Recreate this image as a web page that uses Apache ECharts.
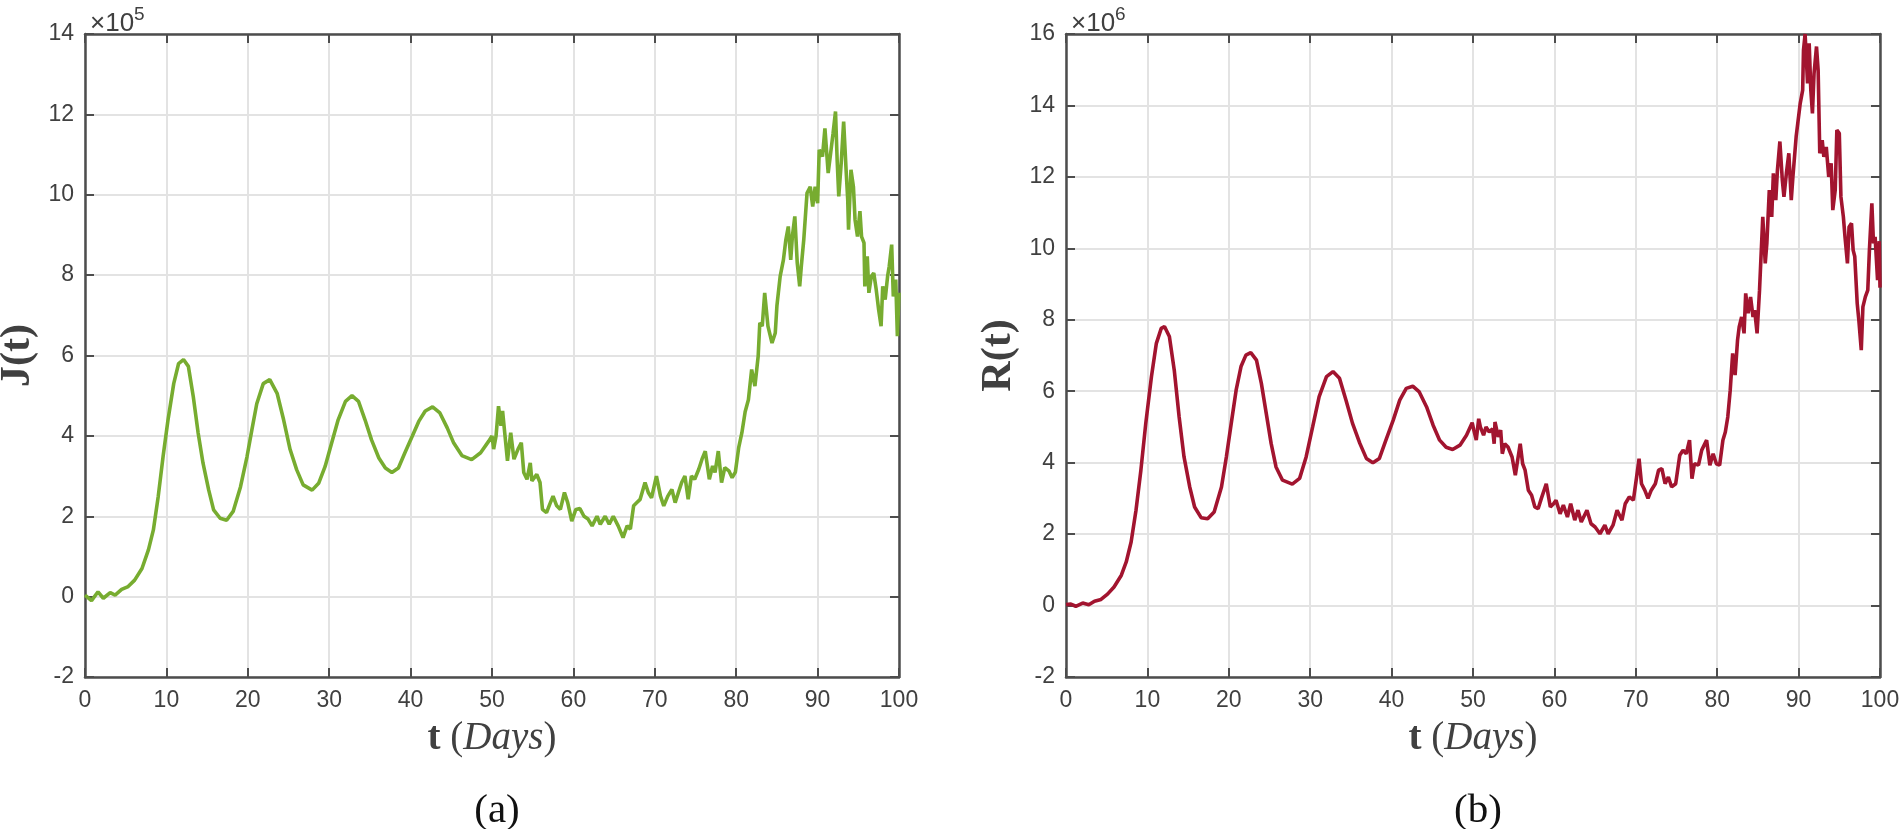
<!DOCTYPE html>
<html>
<head>
<meta charset="utf-8">
<script src="https://cdn.jsdelivr.net/npm/echarts@6/dist/echarts.min.js"></script>
<style>
  html, body { margin: 0; padding: 0; background: #fff; }
  #chart { width: 1900px; height: 829px; }
</style>
</head>
<body>
<div id="chart"></div>
<script>
// x ticks shared by both panels
const dayTicks = [0, 10, 20, 30, 40, 50, 60, 70, 80, 90, 100]

// panel (a): J(t), values in units of 1e5
const jDays = [
  0, 0.8, 1.6, 2.25, 3.1, 3.7, 4.5, 5.3, 6.1, 7.0, 7.8, 8.4, 9.0, 9.6, 10.2, 10.9, 11.5, 12.1, 12.7, 13.3,
  13.9, 14.5, 15.2, 15.8, 16.6, 17.4, 18.2, 19.1, 19.9, 20.5, 21.1, 21.9, 22.7, 23.6, 24.4, 25.2, 26.0, 26.8,
  27.9, 28.7, 29.5, 30.3, 31.1, 32.0, 32.8, 33.6, 34.4, 35.2, 36.1, 36.9, 37.7, 38.5, 39.3, 40.2, 41.0, 41.8,
  42.7, 43.6, 44.5, 45.3, 46.3, 47.5, 48.6, 49.6, 50.0, 50.2, 50.5, 50.8, 51.1, 51.3, 51.6, 51.9, 52.3, 52.7,
  53.2, 53.6, 53.9, 54.3, 54.7, 54.9, 55.5, 55.9, 56.2, 56.7, 57.1, 57.5, 57.95, 58.4, 58.9, 59.3, 59.8, 60.3,
  60.8, 61.3, 61.8, 62.3, 62.9, 63.3, 63.9, 64.4, 64.9, 65.5, 66.1, 66.6, 67.0, 67.4, 67.8, 68.2, 68.8, 69.2,
  69.6, 70.2, 70.7, 71.1, 71.6, 72.1, 72.5, 72.9, 73.3, 73.7, 74.1, 74.5, 74.9, 75.4, 75.8, 76.2, 76.7, 77.1,
  77.4, 77.8, 78.2, 78.6, 79.1, 79.5, 79.9, 80.3, 80.7, 81.1, 81.5, 81.9, 82.3, 82.7, 82.9, 83.2, 83.5, 83.9,
  84.4, 84.8, 85.0, 85.4, 85.8, 86.1, 86.4, 86.7, 86.9, 87.2, 87.5, 87.8, 88.0, 88.3, 88.7, 89.1, 89.4, 89.7,
  90.0, 90.2, 90.6, 90.9, 91.3, 91.6, 91.9, 92.2, 92.4, 92.6, 92.9, 93.2, 93.5, 93.7, 93.8, 94.1, 94.4, 94.6,
  94.9, 95.2, 95.4, 95.7, 95.8, 96.1, 96.3, 96.6, 96.9, 97.2, 97.5, 97.8, 98.0, 98.3, 98.6, 98.8, 99.1, 99.3,
  99.6, 99.8, 100
]
const jValues = [
  0.04, -0.1, 0.12, -0.04, 0.1, 0.04, 0.18, 0.25, 0.41, 0.7, 1.17, 1.66, 2.5, 3.5, 4.4, 5.3, 5.8, 5.9, 5.73, 4.98,
  4.07, 3.32, 2.65, 2.16, 1.95, 1.9, 2.12, 2.73, 3.48, 4.15, 4.8, 5.3, 5.4, 5.06, 4.4, 3.66, 3.16, 2.78,
  2.65, 2.82, 3.24, 3.82, 4.4, 4.86, 5.0, 4.86, 4.4, 3.9, 3.45, 3.2, 3.09, 3.2, 3.58, 3.99, 4.36, 4.62,
  4.72, 4.57, 4.2, 3.82, 3.51, 3.41, 3.58, 3.87, 4.0, 3.67, 4.0, 4.74, 4.25, 4.62, 4.0, 3.38, 4.08, 3.42,
  3.67, 3.83, 3.09, 2.92, 3.33, 2.88, 3.04, 2.84, 2.17, 2.09, 2.3, 2.5, 2.26, 2.17, 2.59, 2.34, 1.88, 2.17,
  2.19, 2.0, 1.93, 1.76, 2.0, 1.8, 2.0, 1.8, 2.0, 1.76, 1.47, 1.76, 1.68, 2.26, 2.34, 2.42, 2.84, 2.59,
  2.46, 3.0, 2.5, 2.26, 2.5, 2.67, 2.34, 2.59, 2.84, 3.0, 2.42, 3.0, 2.92, 3.17, 3.42, 3.62, 2.92, 3.25,
  3.09, 3.62, 2.84, 3.21, 3.13, 2.96, 3.1, 3.7, 4.08, 4.6, 4.9, 5.65, 5.24, 5.98, 6.81, 6.73, 7.56, 6.73,
  6.31, 6.56, 7.23, 7.97, 8.38, 8.88, 9.21, 8.38, 8.96, 9.46, 8.3, 7.72, 8.22, 8.88, 10.04, 10.2, 9.71, 10.2,
  9.79, 11.12, 10.95, 11.65, 10.54, 11.03, 11.53, 12.07, 10.87, 9.96, 10.79, 11.82, 10.62, 9.88, 9.13, 10.62, 10.2, 9.38,
  8.96, 9.59, 8.96, 8.8, 7.72, 8.47, 7.56, 7.97, 8.05, 7.64, 7.14, 6.73, 7.72, 7.39, 7.97, 8.22, 8.76, 7.47,
  7.89, 6.48, 7.56
]
const jTicks = [-2, 0, 2, 4, 6, 8, 10, 12, 14]

// panel (b): R(t), values in units of 1e6
const rDays = [
  0, 0.6, 1.2, 2.05, 2.8, 3.5, 4.3, 5.1, 5.9, 6.8, 7.4, 8.0, 8.6, 9.2, 9.8, 10.5, 11.1, 11.7, 12.1, 12.7,
  13.3, 13.9, 14.5, 15.2, 15.8, 16.6, 17.4, 18.2, 19.1, 19.7, 20.3, 20.9, 21.5, 22.1, 22.7, 23.4, 24.0, 24.6,
  25.2, 25.8, 26.6, 27.8, 28.7, 29.5, 30.3, 31.1, 32.0, 32.8, 33.6, 34.4, 35.2, 36.1, 36.9, 37.7, 38.5, 39.3,
  40.2, 41.0, 41.8, 42.6, 43.4, 44.3, 45.1, 45.9, 46.7, 47.5, 48.4, 49.2, 49.9, 50.1, 50.4, 50.7, 50.9, 51.3,
  51.6, 52.0, 52.4, 52.6, 52.7, 53.1, 53.4, 53.6, 53.9, 54.3, 54.8, 55.2, 55.4, 55.8, 56.1, 56.4, 56.8, 57.2,
  57.6, 58.0, 58.4, 59.0, 59.5, 59.9, 60.2, 60.7, 61.1, 61.6, 62.0, 62.5, 62.9, 63.3, 64.0, 64.5, 65.0, 65.6,
  66.2, 66.6, 67.2, 67.7, 68.3, 68.7, 69.2, 69.7, 70.1, 70.4, 70.7, 71.1, 71.5, 71.9, 72.4, 72.8, 73.2, 73.6,
  74.0, 74.4, 74.9, 75.4, 75.8, 76.2, 76.6, 76.9, 77.2, 77.7, 78.1, 78.7, 79.1, 79.5, 79.9, 80.3, 80.7, 81.0,
  81.3, 81.6, 81.9, 82.2, 82.5, 82.7, 83.0, 83.3, 83.5, 83.8, 84.1, 84.4, 84.6, 84.9, 85.2, 85.6, 85.9, 86.1,
  86.4, 86.7, 86.9, 87.2, 87.4, 87.7, 88.0, 88.2, 88.5, 88.8, 89.1, 89.3, 89.7, 89.9, 90.2, 90.5, 90.6, 90.8,
  91.1, 91.3, 91.5, 91.7, 91.9, 92.2, 92.4, 92.6, 92.9, 93.1, 93.4, 93.7, 94.0, 94.2, 94.5, 94.7, 95.0, 95.2,
  95.5, 95.7, 96.0, 96.2, 96.5, 96.7, 96.9, 97.2, 97.4, 97.7, 97.9, 98.2, 98.5, 98.7, 99.0, 99.2, 99.4, 99.7,
  99.9, 100
]
const rValues = [
  0.03, 0.04, -0.02, 0.07, 0.02, 0.12, 0.17, 0.32, 0.52, 0.85, 1.22, 1.78, 2.67, 3.79, 5.1, 6.41, 7.34, 7.76, 7.81, 7.53,
  6.59, 5.28, 4.16, 3.32, 2.76, 2.46, 2.43, 2.62, 3.32, 4.16, 5.1, 6.03, 6.69, 7.01, 7.08, 6.87, 6.22, 5.38,
  4.54, 3.88, 3.51, 3.4, 3.56, 4.16, 5.0, 5.85, 6.41, 6.55, 6.36, 5.75, 5.1, 4.54, 4.12, 4.0, 4.12, 4.63,
  5.19, 5.75, 6.08, 6.14, 5.98, 5.56, 5.05, 4.63, 4.43, 4.37, 4.49, 4.77, 5.12, 4.91, 4.63, 5.23, 5.0, 4.77,
  5.0, 4.86, 4.95, 4.53, 5.14, 4.72, 4.91, 4.25, 4.53, 4.44, 4.16, 3.65, 3.69, 4.53, 3.97, 3.79, 3.23, 3.09,
  2.76, 2.71, 3.0, 3.41, 2.76, 2.85, 2.95, 2.57, 2.81, 2.48, 2.85, 2.39, 2.67, 2.34, 2.67, 2.29, 2.2, 2.01,
  2.25, 2.01, 2.25, 2.67, 2.39, 2.85, 3.04, 2.95, 3.6, 4.11, 3.41, 3.23, 3.0, 3.23, 3.41, 3.79, 3.83, 3.41,
  3.6, 3.32, 3.41, 4.21, 4.35, 4.25, 4.63, 3.55, 3.97, 3.93, 4.35, 4.63, 3.93, 4.25, 3.97, 3.93, 4.63, 4.86,
  5.28, 6.03, 7.06, 6.45, 7.43, 7.8, 8.08, 7.62, 8.74, 8.18, 8.64, 8.08, 8.27, 7.62, 8.83, 10.88, 9.58, 10.14,
  11.63, 10.88, 12.1, 11.35, 12.19, 12.99, 11.91, 11.44, 12.1, 12.66, 11.35, 12.0, 13.13, 13.5, 14.06, 14.43, 15.55, 16.0,
  14.62, 15.74, 14.43, 13.78, 14.9, 15.65, 14.99, 12.66, 13.03, 12.56, 12.84, 12.0, 12.38, 11.07, 11.63, 13.31, 13.22, 11.44,
  10.88, 10.32, 9.58, 10.6, 10.7, 9.95, 9.77, 8.46, 7.99, 7.15, 8.36, 8.64, 8.83, 9.95, 11.26, 10.14, 10.32, 9.11,
  10.2, 8.9
]
const rTicks = [-2, 0, 2, 4, 6, 8, 10, 12, 14, 16]

const AXIS_COLOR = '#4d4d4d'
const LABEL_COLOR = '#404040'
const GRID_COLOR = '#e3e3e3'
const SANS = 'Liberation Sans'
const SERIF = 'Liberation Serif'

const panels = [
  { left: 85, name: 'J', exp: '5', ticks: jTicks, days: jDays, values: jValues, color: '#77ac30', tag: '(a)' },
  { left: 1066, name: 'R', exp: '6', ticks: rTicks, days: rDays, values: rValues, color: '#a2142f', tag: '(b)' }
]
const plotW = 814
const plotTop = 34
const plotH = 643

const grids = []
const xAxes = []
const yAxes = []
const series = []
const titles = []

panels.forEach((p, i) => {
  // keep the plot box fixed, names may hang outside
  grids.push({ left: p.left, top: plotTop, width: plotW, height: plotH, containLabel: false, outerBoundsMode: 'none' })

  const tick = { show: true, inside: true, length: 9, lineStyle: { color: AXIS_COLOR, width: 2 } }
  const line = { show: true, onZero: false, lineStyle: { color: AXIS_COLOR, width: 2.5 } }
  const split = { show: true, lineStyle: { color: GRID_COLOR, width: 2 } }
  const yMin = p.ticks[0], yMax = p.ticks[p.ticks.length - 1]

  xAxes.push({
    gridIndex: i, type: 'value', position: 'bottom',
    min: dayTicks[0], max: dayTicks[dayTicks.length - 1], interval: 10,
    axisLine: line, axisTick: tick, splitLine: split,
    axisLabel: { color: LABEL_COLOR, fontFamily: SANS, fontSize: 23, margin: 12, showMinLabel: true, showMaxLabel: true },
    name: '{b|t}{n| (}{i|Days}{n|)}',
    nameLocation: 'middle', nameGap: 42,
    nameTextStyle: {
      color: LABEL_COLOR, fontFamily: SERIF, fontSize: 39,
      rich: {
        b: { fontFamily: SERIF, fontWeight: 'bold', fontSize: 39, color: LABEL_COLOR },
        n: { fontFamily: SERIF, fontSize: 39, color: LABEL_COLOR },
        i: { fontFamily: SERIF, fontStyle: 'italic', fontSize: 39, color: LABEL_COLOR }
      }
    }
  })
  xAxes.push({
    gridIndex: i, type: 'value', position: 'top',
    min: dayTicks[0], max: dayTicks[dayTicks.length - 1], interval: 10,
    axisLine: line, axisTick: tick, splitLine: { show: false }, axisLabel: { show: false }
  })

  yAxes.push({
    gridIndex: i, type: 'value', position: 'left',
    min: yMin, max: yMax, interval: 2,
    axisLine: line, axisTick: tick, splitLine: split,
    axisLabel: { color: LABEL_COLOR, fontFamily: SANS, fontSize: 23, margin: 11, showMinLabel: true, showMaxLabel: true },
    name: p.name + '(t)',
    nameLocation: 'middle', nameGap: 46,
    nameTextStyle: { color: LABEL_COLOR, fontFamily: SERIF, fontWeight: 'bold', fontSize: 42 }
  })
  yAxes.push({
    gridIndex: i, type: 'value', position: 'right',
    min: yMin, max: yMax, interval: 2,
    axisLine: line, axisTick: tick, splitLine: { show: false }, axisLabel: { show: false }
  })

  series.push({
    type: 'line',
    xAxisIndex: i * 2, yAxisIndex: i * 2,
    data: p.days.map((d, k) => [d, p.values[k]]),
    showSymbol: false,
    lineStyle: { color: p.color, width: 3.6 },
    itemStyle: { color: p.color },
    animation: false
  })

  titles.push({
    text: '{a|×10}{s|' + p.exp + '}',
    left: p.left, top: 0,
    textStyle: {
      fontFamily: SANS, fontSize: 26, fontWeight: 'normal', color: LABEL_COLOR,
      rich: {
        a: { fontFamily: SANS, fontSize: 26, fontWeight: 'normal', color: LABEL_COLOR, verticalAlign: 'bottom' },
        s: { fontFamily: SANS, fontSize: 19, fontWeight: 'normal', color: LABEL_COLOR, verticalAlign: 'bottom', padding: [0, 0, 13, 0] }
      }
    }
  })
  titles.push({
    text: p.tag,
    left: p.left + plotW / 2, top: 786, textAlign: 'center',
    textStyle: { fontFamily: SERIF, fontSize: 41, fontWeight: 'normal', color: '#111' }
  })
})

const chart = echarts.init(document.getElementById('chart'))
chart.setOption({
  backgroundColor: '#fff',
  animation: false,
  title: titles,
  grid: grids,
  xAxis: xAxes,
  yAxis: yAxes,
  series: series
})
</script>
</body>
</html>
